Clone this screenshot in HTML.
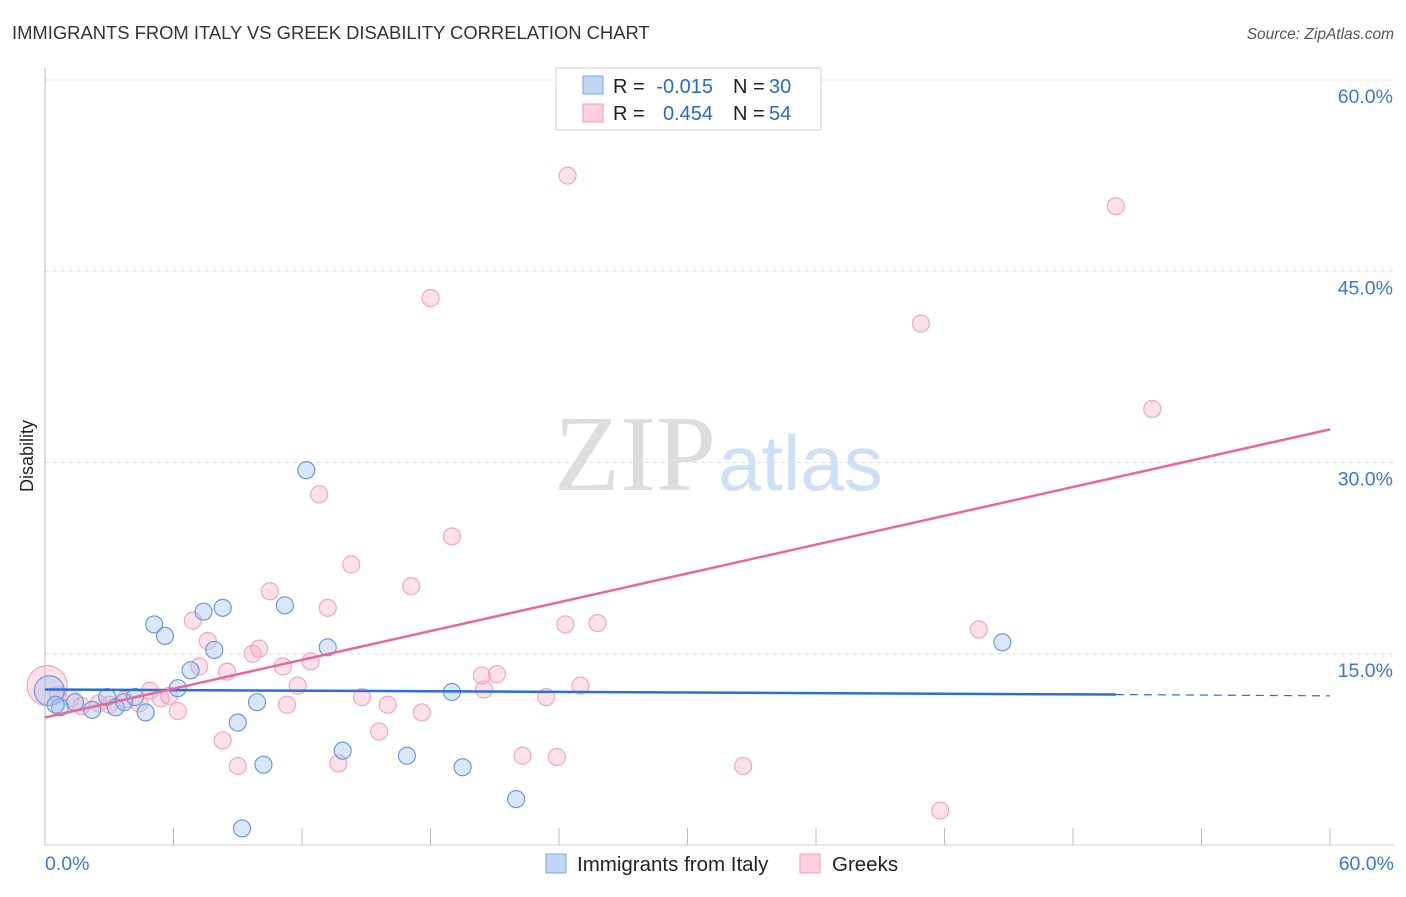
<!DOCTYPE html>
<html><head><meta charset="utf-8"><style>
body{margin:0;background:#fff;font-family:"Liberation Sans",sans-serif}
svg text{font-family:"Liberation Sans",sans-serif}
</style></head><body>
<svg width="1406" height="892" xmlns="http://www.w3.org/2000/svg">
<text x="12" y="39" font-size="18.4" fill="#333">IMMIGRANTS FROM ITALY VS GREEK DISABILITY CORRELATION CHART</text>
<text x="1394" y="39" font-size="15.5" fill="#555" font-style="italic" text-anchor="end">Source: ZipAtlas.com</text>
<text x="33" y="456" font-size="18" fill="#222" transform="rotate(-90 33 456)" text-anchor="middle">Disability</text>
<g id="grid"></g>
<text x="716" y="490" font-size="108" fill="#ddd" text-anchor="end" style="font-family:'Liberation Serif',serif">ZIP</text>
<text x="718" y="490" font-size="78" fill="#cfe0f5">atlas</text>
<g id="pts"></g>
<g id="lines"></g>
<g font-size="20">
<rect x="556" y="68" width="265" height="62" fill="#fff" stroke="#ccc"/>
<rect x="583" y="76" width="20" height="18" fill="#c0d6f5" stroke="#7aa6e0"/>
<rect x="583" y="104" width="20" height="18" fill="#fbd0dc" stroke="#f09ab5"/>
<text x="613" y="93" fill="#222">R =</text>
<text x="713" y="93" fill="#2a68c9" text-anchor="end">-0.015</text>
<text x="733" y="93" fill="#222">N =</text>
<text x="769" y="93" fill="#2a68c9">30</text>
<text x="613" y="120" fill="#222">R =</text>
<text x="713" y="120" fill="#2a68c9" text-anchor="end">0.454</text>
<text x="733" y="120" fill="#222">N =</text>
<text x="769" y="120" fill="#2a68c9">54</text>
</g>
<g>
<rect x="546" y="854" width="20" height="19" fill="#c0d6f5" stroke="#7aa6e0"/>
<text x="577" y="871" font-size="20.5" fill="#222">Immigrants from Italy</text>
<rect x="800" y="854" width="20" height="19" fill="#fbd0dc" stroke="#f09ab5"/>
<text x="832" y="871" font-size="20.5" fill="#222">Greeks</text>
</g>
</svg>
<script>
const yTicks=[15,30,45,60];
const xTickCount=10;
const blueX=[0.2,0.7,1.4,2.2,2.9,3.3,3.7,4.2,4.7,5.1,5.6,6.2,6.8,7.4,7.9,8.3,9.0,9.9,10.2,9.2,11.2,12.2,13.2,13.9,16.9,19.0,19.5,22.0,44.7,0.5];
const blueY=[12.1,10.8,11.2,10.6,11.6,10.8,11.2,11.6,10.4,17.3,16.4,12.3,13.7,18.3,15.3,18.6,9.6,11.2,6.3,1.3,18.8,29.4,15.5,7.4,7.0,12.0,6.1,3.6,15.9,11.0];
const pinkX=[0.1,0.6,1.2,1.7,2.5,3.0,3.7,4.4,4.9,5.4,5.8,6.2,6.9,7.2,7.6,8.3,8.5,9.0,9.7,10.0,10.5,11.1,11.3,11.8,12.4,12.8,13.2,13.7,14.3,14.8,15.6,16.0,17.1,17.6,18.0,19.0,20.4,20.5,21.1,22.3,23.4,23.9,24.3,24.4,25.0,25.8,32.6,40.9,41.8,43.6,50.0,51.7];
const pinkY=[12.5,11.8,11.5,10.9,11.1,11.0,11.4,11.1,12.1,11.5,11.7,10.5,17.6,14.0,16.0,8.2,13.6,6.2,15.0,15.4,19.9,14.0,11.0,12.5,14.4,27.5,18.6,6.4,22.0,11.6,8.9,11.0,20.3,10.4,42.9,24.2,13.3,12.2,13.4,7.0,11.6,6.9,17.3,52.5,12.5,17.4,6.2,40.9,2.7,16.9,50.1,34.2];
const X=v=>45+v*1285/60, Y=v=>845-v*(845-80)/60;
const ns="http://www.w3.org/2000/svg";
const g=document.getElementById('grid');
function mk(tag,a,parent){const e=document.createElementNS(ns,tag);for(const k in a)e.setAttribute(k,a[k]);parent.appendChild(e);return e;}
yTicks.forEach(t=>{
 const l=mk('line',{x1:45,x2:1394,y1:Y(t),y2:Y(t),stroke:'#ddd','stroke-dasharray':'4 4'},g);
 
 
 const tx=mk('text',{x:1393,y:Y(t)+23,'font-size':19.5,fill:'#3a78d4','text-anchor':'end'},g);
 tx.textContent=t.toFixed(1)+'%';
 
 
});
const ax=mk('line',{x1:45,x2:45,y1:68,y2:845,stroke:'#bbb'},g);


const bx=mk('line',{x1:45,x2:1394,y1:845,y2:845,stroke:'#ccc'},g);


for(let i=0;i<=xTickCount;i++){
 const v=i*60/xTickCount;
 const t=mk('line',{x1:X(v),x2:X(v),y1:828,y2:845,stroke:'#bbb'},g);
 
 
}
[[0,'0.0%','start',45],[60,'60.0%','end',1394]].forEach(d=>{
 const t=mk('text',{x:d[3],y:870,'font-size':19.5,fill:'#3a78d4','text-anchor':d[2]},g);
 t.textContent=d[1];
 
 
});
const p=document.getElementById('pts');
pinkX.forEach((x,i)=>{
 const c=mk('circle',{cx:X(x),cy:Y(pinkY[i]),r:i==0?20:8.5,fill:'rgba(246,170,195,0.35)',stroke:'#f0a8be','stroke-width':1.2},p);
 
 
});
blueX.forEach((x,i)=>{
 const c=mk('circle',{cx:X(x),cy:Y(blueY[i]),r:i==0?15:8.5,fill:'rgba(160,196,240,0.4)',stroke:'#6b9ade','stroke-width':1.2},p);
 
 
});
const L=document.getElementById('lines');
const b1=mk('line',{x1:X(0),y1:Y(12.2),x2:X(50),y2:Y(11.8),stroke:'#2a6fd6','stroke-width':2.5},L);


const b2=mk('line',{x1:X(50),y1:Y(11.8),x2:X(60),y2:Y(11.7),stroke:'#2a6fd6','stroke-width':1.2,'stroke-dasharray':'8 6'},L);


const pl=mk('line',{x1:X(0),y1:Y(10.0),x2:X(60),y2:Y(32.6),stroke:'#e8689a','stroke-width':2.5},L);


</script>
</body></html>
